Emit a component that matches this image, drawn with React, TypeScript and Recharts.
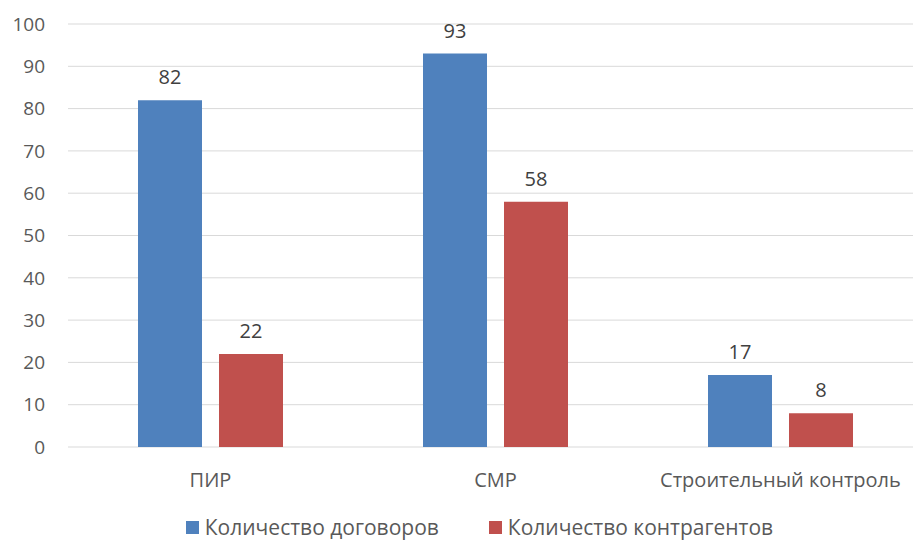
import { BarChart, Bar, XAxis, YAxis, CartesianGrid, Legend, LabelList } from 'recharts'

const categories = ['ПИР', 'СМР', 'Строительный контроль']
const contracts = [82, 93, 17]
const contractors = [22, 58, 8]
const yTicks = [0, 10, 20, 30, 40, 50, 60, 70, 80, 90, 100]

const seriesNames = {
  contracts: 'Количество договоров',
  contractors: 'Количество контрагентов',
}

const FONT = '"Open Sans", sans-serif'

const data = categories.map((name, i) => ({
  name,
  contracts: contracts[i],
  contractors: contractors[i],
}))

// legend drawn by hand so spacing matches the original
function LegendContent({ payload }: any) {
  return (
    <div style={{ display: 'flex', justifyContent: 'center', gap: 50, paddingTop: 6, paddingLeft: 36, fontFamily: FONT, fontSize: 21, color: '#595959', lineHeight: '24px' }}>
      {(payload || []).map((p: any) => (
        <span key={p.value} style={{ display: 'flex', alignItems: 'center' }}>
          <span style={{ width: 13, height: 13, background: p.color, display: 'inline-block', marginRight: 6 }} />
          {p.value}
        </span>
      ))}
    </div>
  )
}

export default function App() {
  return (
    <div style={{ position: 'absolute', left: 0, top: 0, width: 913, height: 540, overflow: 'hidden', background: '#fff' }}>
      <BarChart
        width={923}
        height={540}
        data={data}
        margin={{ top: 24, right: 0, left: 0, bottom: 0 }}
        barSize={64}
        barGap={17}
      >
        <CartesianGrid vertical={false} stroke="#D9D9D9" />
        <XAxis
          dataKey="name"
          axisLine={false}
          tickLine={false}
          tickMargin={20}
          height={62}
          tick={{ fontFamily: FONT, fontSize: 20, fill: '#595959' }}
        />
        <YAxis
          width={68}
          domain={[0, 100]}
          ticks={yTicks}
          axisLine={false}
          tickLine={false}
          tickMargin={17}
          tick={{ fontFamily: FONT, fontSize: 19, fill: '#595959' }}
        />
        <Legend verticalAlign="bottom" height={31} content={<LegendContent />} />
        <Bar dataKey="contracts" name={seriesNames.contracts} fill="#4F81BD" isAnimationActive={false}>
          <LabelList dataKey="contracts" position="top" offset={16} style={{ fontFamily: FONT, fontSize: 20, fill: '#404040' }} />
        </Bar>
        <Bar dataKey="contractors" name={seriesNames.contractors} fill="#C0504D" isAnimationActive={false}>
          <LabelList dataKey="contractors" position="top" offset={16} style={{ fontFamily: FONT, fontSize: 20, fill: '#404040' }} />
        </Bar>
      </BarChart>
    </div>
  )
}
